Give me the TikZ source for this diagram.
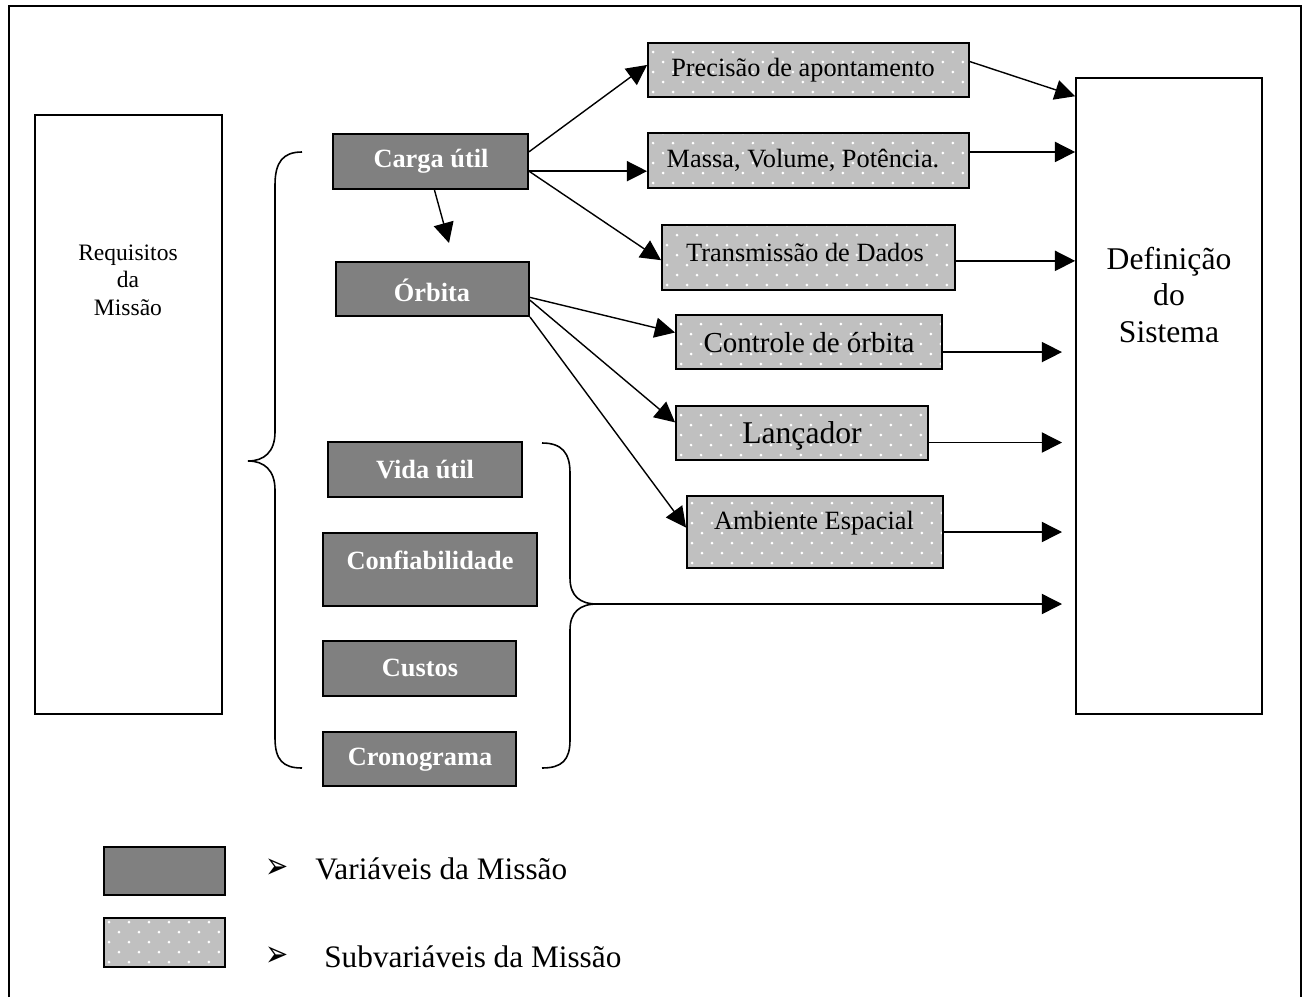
\documentclass[tikz,border=0pt]{standalone}
\usepackage{fontspec}
\setmainfont{Liberation Serif}
\newfontfamily\dejavu{DejaVu Sans}
\usetikzlibrary{arrows.meta,fit,calc}
\definecolor{darkbox}{HTML}{808080}
\definecolor{lightbox}{HTML}{C0C0C0}
\tikzset{
  frameline/.style={line width=1.4pt},
  plainbox/.style={draw, line width=1pt, inner sep=0pt},
  varbox/.style={draw, line width=1.1pt, fill=darkbox, inner sep=0pt},
  subbox/.style={draw, line width=1.1pt, fill=lightbox, inner sep=0pt,
    path picture={
      \foreach \i in {0,...,16}{
        \foreach \j in {0,...,4}{
          \fill[white] ([xshift=\i*0.4cm+0.1cm,yshift=\j*0.4cm+0.1cm]path picture bounding box.south west) circle[radius=0.03cm];
          \fill[white] ([xshift=\i*0.4cm+0.3cm,yshift=\j*0.4cm+0.3cm]path picture bounding box.south west) circle[radius=0.03cm];
        }
      }
    }},
  vartxt/.style={text=white, font=\fontsize{15}{18}\selectfont\bfseries, inner sep=0pt},
  subtxt/.style={font=\fontsize{15}{18}\selectfont, inner sep=0pt},
  conn/.style={line width=0.8pt, -{Triangle[length=11.5pt,width=11.5pt]}},
  bracepath/.style={line width=0.9pt},
  legtxt/.style={font=\fontsize{17.8}{20}\selectfont, inner sep=0pt, anchor=west},
  bullet/.style={font=\dejavu\fontsize{21}{21}\selectfont, inner sep=0pt},
}
\begin{document}
\begin{tikzpicture}[x=0.02cm,y=-0.02cm]
\useasboundingbox (0,0) rectangle (1304,997);
\draw[frameline] (9,997) -- (9,6) -- (1301,6) -- (1301,997);

% main boxes
\node[plainbox, fit={(35,115)(222,714)}] (req) {};
\node[align=center, inner sep=0pt, font=\fontsize{13.4}{15.6}\selectfont] (reqT) at (128,280) {Requisitos\\da\\Missão};
\node[plainbox, fit={(1076,78)(1262,714)}] (def) {};
\node[align=center, inner sep=0pt, font=\fontsize{18}{21}\selectfont] (defT) at (1169,295) {Definição\\do\\Sistema};

% variables
\node[varbox, fit={(333,134)(528,189)}] (carga) {};
\node[vartxt] (cargaT) at (431,161) {Carga útil};
\node[varbox, fit={(336,262)(529,316)}] (orbita) {};
\node[vartxt] (orbitaT) at (432,290) {Órbita};
\node[varbox, fit={(328,442)(522,497)}] (vida) {};
\node[vartxt] (vidaT) at (425,470) {Vida útil};
\node[varbox, fit={(323,533)(537,606)}] (conf) {};
\node[vartxt] (confT) at (430,560) {Confiabilidade};
\node[varbox, fit={(323,641)(516,696)}] (custos) {};
\node[vartxt] (custosT) at (420,668) {Custos};
\node[varbox, fit={(323,732)(516,786)}] (crono) {};
\node[vartxt] (cronoT) at (420,760) {Cronograma};

% subvariables
\node[subbox, fit={(648,43)(969,97)}] (prec) {};
\node[subtxt] (precT) at (803,70) {Precisão de apontamento};
\node[subbox, fit={(648,133)(969,188)}] (massa) {};
\node[subtxt] (massaT) at (803,160) {Massa, Volume, Potência.};
\node[subbox, fit={(662,225)(955,290)}] (trans) {};
\node[subtxt] (transT) at (805,252) {Transmissão de Dados};
\node[subbox, fit={(676,315)(942,369)}] (ctrl) {};
\node[subtxt, font=\fontsize{16.5}{19}\selectfont] (ctrlT) at (809,343) {Controle de órbita};
\node[subbox, fit={(676,406)(928,460)}] (lanc) {};
\node[subtxt, font=\fontsize{18}{21}\selectfont] (lancT) at (802,436) {Lançador};
\node[subbox, fit={(687,496)(943,568)}] (amb) {};
\node[subtxt] (ambT) at (814,523) {Ambiente Espacial};

% braces
\draw[bracepath] (302,152) .. controls (283,152) and (275,162) .. (275,185) -- (275,432)
  .. controls (275,452) and (264,461) .. (248,461)
  .. controls (264,461) and (275,470) .. (275,490) -- (275,738)
  .. controls (275,760) and (283,768) .. (302,768);
\coordinate (btip) at (597,604);
\draw[bracepath] (542,443) .. controls (562,443) and (570,453) .. (570,473) -- (570,578)
  .. controls (570,596) and (580,604) .. (btip)
  .. controls (580,604) and (570,612) .. (570,630) -- (570,740)
  .. controls (570,760) and (562,768) .. (542,768);

% connectors
\coordinate (gapx) at (1062,0);
\coordinate (orbtip) at (449,243);
\draw[conn] ($(carga.south west)!0.52!(carga.south east)$) -- (orbtip);
\draw[conn] ($(carga.north east)!0.33!(carga.south east)$) -- ($(prec.north west)!0.41!(prec.south west)$);
\draw[conn] ($(carga.north east)!0.67!(carga.south east)$) coordinate (c2) -- (c2 -| massa.west);
\draw[conn] (c2) -- ($(trans.north west)!0.54!(trans.south west)$);
\draw[conn] ($(orbita.north east)!0.65!(orbita.south east)$) -- ($(ctrl.north west)!0.33!(ctrl.south west)$);
\draw[conn] ($(orbita.north east)!0.7!(orbita.south east)$) -- ($(lanc.north west)!0.31!(lanc.south west)$);
\draw[conn] (orbita.south east) -- ($(amb.north west)!0.44!(amb.south west)$);

\draw[conn] ($(prec.north east)!0.35!(prec.south east)$) -- ($(def.north west)!0.03!(def.south west)$);
\draw[conn] ($(massa.north east)!0.35!(massa.south east)$) coordinate (m1) -- (m1 -| def.west);
\draw[conn] ($(trans.north east)!0.55!(trans.south east)$) coordinate (t1) -- (t1 -| def.west);
\draw[conn] ($(ctrl.north east)!0.68!(ctrl.south east)$) coordinate (k1) -- (k1 -| gapx);
\draw[conn] ($(lanc.north east)!0.67!(lanc.south east)$) coordinate (l1) -- (l1 -| gapx);
\draw[conn] ($(amb.north east)!0.5!(amb.south east)$) coordinate (a1) -- (a1 -| gapx);
\draw[conn] (btip) -- (btip -| gapx);

% legend
\node[varbox, fit={(104,847)(225,895)}] (legvar) {};
\node[subbox, fit={(104,918)(225,967)}] (legsub) {};
\node[bullet] (b1) at (277,869) {\scalebox{0.75}[1]{➢}};
\node[legtxt] (l1T) at (315,869) {Variáveis da Missão};
\node[bullet] (b2) at (277,957) {\scalebox{0.75}[1]{➢}};
\node[legtxt] (l2T) at (324,957) {Subvariáveis da Missão};
\end{tikzpicture}
\end{document}
